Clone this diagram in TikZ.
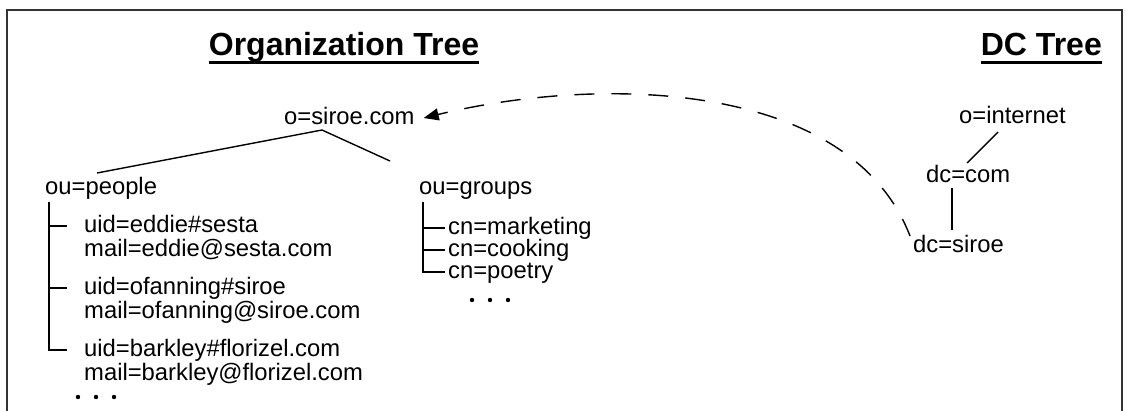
\documentclass[tikz,border=0pt]{standalone}
\usepackage{fontspec}
\setmainfont{Liberation Sans}
\usetikzlibrary{arrows.meta,calc}
\begin{document}
\begin{tikzpicture}[x=1pt,y=-1pt,
  txt/.style={inner sep=0pt, anchor=base west, font=\fontsize{23.8pt}{24pt}\selectfont},
  ttl/.style={inner sep=0pt, anchor=base, font=\fontsize{32pt}{34pt}\selectfont\bfseries},
  conn/.style={line width=1.4pt, line cap=butt},
  frame/.style={line width=2.5pt, draw=black!80},
  uline/.style={line width=2.5pt},
  dotmark/.style={circle, fill=black, inner sep=0pt, minimum size=4.4pt}]
\useasboundingbox (0,0) rectangle (1127,410);
\draw[frame] (7,414) -- (7,10) -- (1122,10) -- (1122,414);
% titles
\node[ttl] (orgt) at (344,55) {Organization Tree};
\node[ttl, anchor=base east] (dct) at (1102,55) {DC Tree};
\draw[uline] ([yshift=-7.5pt]orgt.base west) -- ([yshift=-7.5pt]orgt.base east);
\draw[uline] ([yshift=-7.5pt]dct.base west) -- ([yshift=-7.5pt]dct.base east);
% organization tree
\node[txt] (osiroe) at (284,124) {o=siroe.com};
\node[txt] (people) at (45,194) {ou=people};
\node[txt] (uid1) at (84,232) {uid=eddie\#sesta};
\node[txt] (mail1) at (84,256) {mail=eddie@sesta.com};
\node[txt] (uid2) at (84,294) {uid=ofanning\#siroe};
\node[txt] (mail2) at (84,318) {mail=ofanning@siroe.com};
\node[txt] (uid3) at (84,356) {uid=barkley\#florizel.com};
\node[txt] (mail3) at (84,380) {mail=barkley@florizel.com};
\node[dotmark] (pd1) at (78,397) {};
\node[dotmark] (pd2) at (96,397) {};
\node[dotmark] (pd3) at (114,397) {};
\node[txt] (groups) at (419,194) {ou=groups};
\node[txt] (cn1) at (448,234) {cn=marketing};
\node[txt] (cn2) at (448,256) {cn=cooking};
\node[txt] (cn3) at (448,278) {cn=poetry};
\node[dotmark] (gd1) at (472,300) {};
\node[dotmark] (gd2) at (490,300) {};
\node[dotmark] (gd3) at (508,300) {};
% DC tree
\node[txt] (inet) at (959,123) {o=internet};
\node[txt] (dccom) at (926,182) {dc=com};
\node[txt] (dcsiroe) at (913,252) {dc=siroe};
% connectors
\draw[conn] ($(osiroe.base west)+(38,6)$) coordinate (apex) -- ($(people.base west)+(52,-21)$);
\draw[conn] (apex) -- ($(groups.base west)+(-29,-33)$);
\coordinate (pv) at ($(people.base west)+(4,8)$);
\coordinate (pt1) at ($(uid1.base west)+(-17,-6)$);
\coordinate (pt2) at ($(uid2.base west)+(-17,-6)$);
\coordinate (pt3) at ($(uid3.base west)+(-17,-6)$);
\draw[conn] (pv) |- (pt3);
\draw[conn] (pv |- pt1) -- (pt1);
\draw[conn] (pv |- pt2) -- (pt2);
\coordinate (gv) at ($(groups.base west)+(4,8)$);
\coordinate (gt1) at ($(cn1.base west)+(-3,-6)$);
\coordinate (gt2) at ($(cn2.base west)+(-3,-6)$);
\coordinate (gt3) at ($(cn3.base west)+(-3,-6)$);
\draw[conn] (gv) |- (gt3);
\draw[conn] (gv |- gt1) -- (gt1);
\draw[conn] (gv |- gt2) -- (gt2);
\draw[conn] ($(inet.base west)+(39,9)$) -- ($(dccom.base west)+(41,-19)$);
\draw[conn] ($(dccom.base west)+(26,6)$) -- ($(dcsiroe.base west)+(39,-22)$);
\draw[conn, dash pattern=on 20pt off 17pt, dash phase=10pt, {Triangle[length=15pt,width=12pt]}-]
  ($(osiroe.base east)+(9,-6)$) .. controls (600,75) and (850,80) .. ($(dcsiroe.base west)+(-3,-16)$);
\end{tikzpicture}
\end{document}
